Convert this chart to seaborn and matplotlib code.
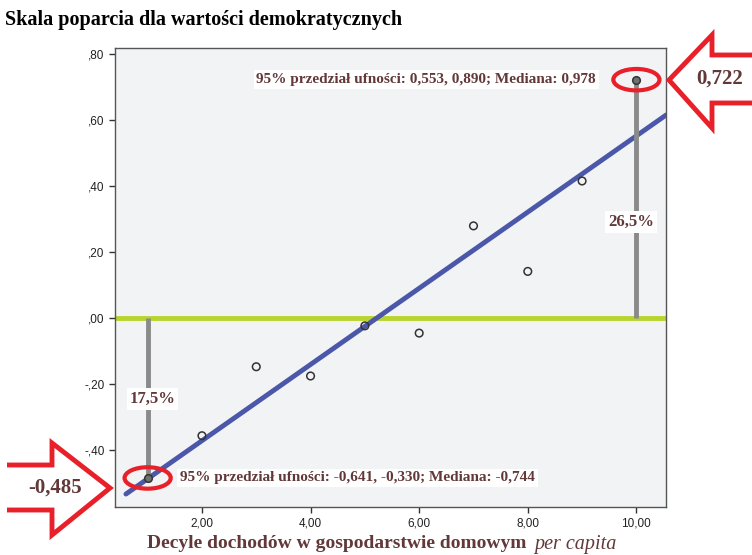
import numpy as np
import pandas as pd
import seaborn as sns
import matplotlib.pyplot as plt
from matplotlib.patches import Ellipse, Polygon
from matplotlib.ticker import FuncFormatter

# decyle dochodu i srednie na skali poparcia
decyle = [1, 2, 3, 4, 5, 6, 7, 8, 9, 10]
srednie = [-0.485, -0.357, -0.148, -0.176, -0.024, -0.046, 0.279, 0.141, 0.415, 0.722]
y_ticks = [-0.40, -0.20, 0.00, 0.20, 0.40, 0.60, 0.80]
x_ticks = [2, 4, 6, 8, 10]
udzial_dol = "17,5%"
udzial_gora = "26,5%"
opis_dol = "95% przedział ufności: -0,641, -0,330; Mediana: -0,744"
opis_gora = "95% przedział ufności: 0,553, 0,890; Mediana: 0,978"

df = pd.DataFrame({"decyl": decyle, "srednia": srednie})

sns.set_style("ticks")
plt.rcParams['font.family'] = ['Liberation Sans', 'DejaVu Sans']

brown = '#623838'
serif = ['Liberation Serif', 'DejaVu Serif']

fig = plt.figure(figsize=(7.52, 5.55), dpi=100)
ax = fig.add_axes([0.153, 0.0865, 0.733, 0.827])
ax.set_facecolor('#f2f3f5')

# linia regresji
ax.set_xlim(0.6, 10.55)
sns.regplot(data=df, x='decyl', y='srednia', ci=None, scatter=False, truncate=False,
            line_kws=dict(color='#4b57a8', lw=3.5, zorder=3), ax=ax)
ax.set_xlim(0.4, 10.55)
ax.set_ylim(-0.573, 0.818)

ax.axhline(0, color='#b8d42e', lw=3.5, zorder=2)

# odcinki od zera do skrajnych decyli
for i in (0, -1):
    ax.plot([decyle[i], decyle[i]], [0, srednie[i]], color='#8a8a8a', lw=3.5,
            solid_capstyle='butt', zorder=4)

sns.scatterplot(data=df.iloc[1:-1], x='decyl', y='srednia', s=30, marker='o',
                facecolor='none', edgecolor='#333333', linewidth=1.1, zorder=5, ax=ax)
sns.scatterplot(data=df.iloc[[0, -1]], x='decyl', y='srednia', s=30, marker='o',
                color='#707070', edgecolor='#333333', linewidth=1.1, zorder=5, ax=ax)

for i in (0, -1):
    ax.add_patch(Ellipse((decyle[i], srednie[i]), 0.85, 0.065, fill=False,
                         edgecolor='#e8202a', lw=3, zorder=6))

box = dict(facecolor='white', edgecolor='none', pad=2)
ax.text(3.0, srednie[-1], opis_gora, ha='left', va='center', color=brown,
        family=serif, weight='bold', fontsize=11, bbox=box, zorder=7)
ax.text(1.6, srednie[0], opis_dol, ha='left', va='center', color=brown,
        family=serif, weight='bold', fontsize=11, bbox=box, zorder=7)
ax.text(1.09, -0.245, udzial_dol, ha='center', va='center', color=brown,
        family=serif, weight='bold', fontsize=12, bbox=box, zorder=7)
ax.text(9.9, 0.29, udzial_gora, ha='center', va='center', color=brown,
        family=serif, weight='bold', fontsize=12, bbox=box, zorder=7)


def fmt(v, pos):
    s = f"{v:.2f}".replace('.', ',')
    if s.startswith('0,'):
        s = s[1:]
    elif s.startswith('-0,'):
        s = '-' + s[2:]
    return s


ax.set_xticks(x_ticks)
ax.set_yticks(y_ticks)
ax.xaxis.set_major_formatter(FuncFormatter(fmt))
ax.yaxis.set_major_formatter(FuncFormatter(fmt))
ax.tick_params(labelsize=8.5, length=4, width=1, color='#333333', labelcolor='#222222')
for sp in ax.spines.values():
    sp.set_color('#555555')
    sp.set_linewidth(1)
ax.set_xlabel('')
ax.set_ylabel('')

fig.text(5 / 752, 1 - 20 / 555, 'Skala poparcia dla wartości demokratycznych',
         ha='left', va='center', family=serif, weight='bold', fontsize=14.5, color='black')
fig.text(531 / 752, 1 - 544 / 555, 'Decyle dochodów w gospodarstwie domowym ',
         ha='right', va='center', family=serif, weight='bold', fontsize=14, color=brown)
fig.text(534 / 752, 1 - 544 / 555, 'per capita',
         ha='left', va='center', family=serif, style='italic', fontsize=14.5, color=brown)

# strzalki
W, H = 752, 555


def to_fig(pts):
    return [(x / W, 1 - y / H) for x, y in pts]


left_arrow = [(7, 465), (52, 465), (52, 443), (110, 488), (52, 535), (52, 510), (7, 510)]
right_arrow = [(760, 55), (712, 55), (712, 35), (669, 80), (712, 128), (712, 103), (760, 103)]
for pts in (left_arrow, right_arrow):
    fig.patches.append(Polygon(to_fig(pts), closed=False, fill=False, edgecolor='#e8202a',
                               lw=3.5, joinstyle='miter', transform=fig.transFigure))

fig.text(55 / W, 1 - 488 / H, '-0,485', ha='center', va='center', family=serif,
         weight='bold', fontsize=15, color=brown)
fig.text(720 / W, 1 - 79 / H, '0,722', ha='center', va='center', family=serif,
         weight='bold', fontsize=15, color=brown)

fig.savefig('out.png', dpi=100)
